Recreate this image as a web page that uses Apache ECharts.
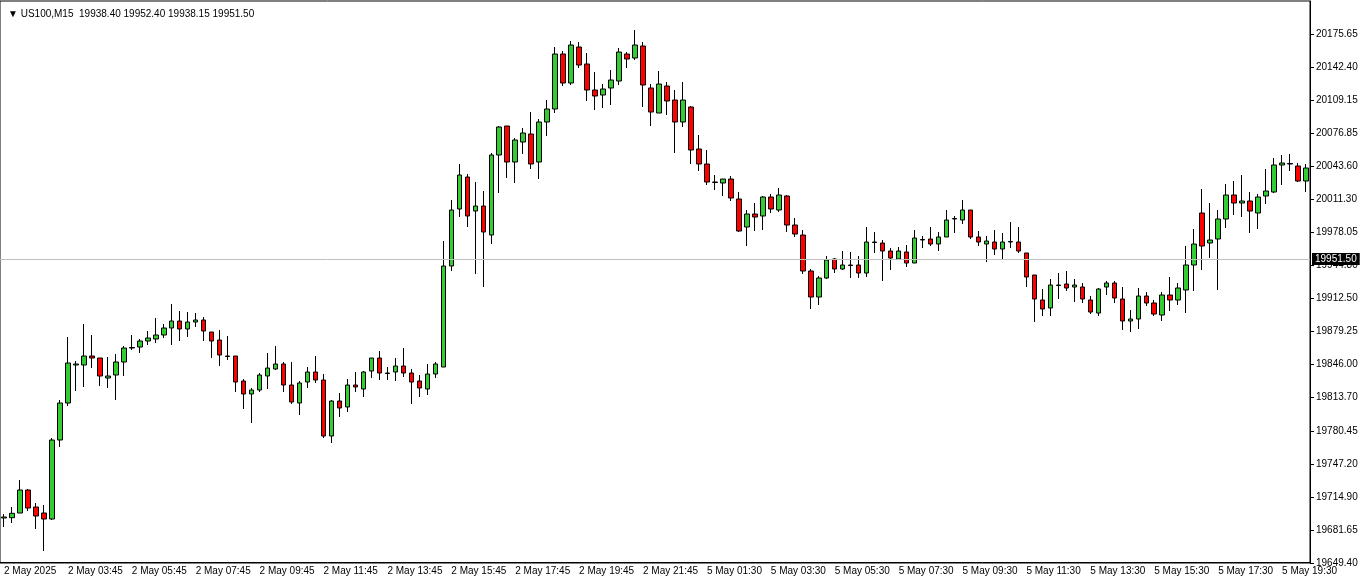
<!DOCTYPE html>
<html><head><meta charset="utf-8">
<script src="https://cdn.jsdelivr.net/npm/echarts@6/dist/echarts.min.js"></script>
<style>html,body{margin:0;padding:0;background:#fff}#c{width:1362px;height:585px}</style>
</head><body><div id="c"></div>
<script>
// [open, close, low, high]
const opens=[19692.5,19692.8,19697.5,19720.5,19703.5,19697.5,19691.5,19770.5,19807.5,19845.5,19845.5,19854.5,19852.5,19832.5,19835.5,19848.5,19862.5,19863.5,19869.5,19871.5,19875.5,19882.5,19889.5,19881.5,19888.5,19890.5,19878.5,19870.5,19854.5,19854.5,19829.5,19816.5,19820.5,19834.5,19841.5,19846.5,19825.5,19807.5,19828.5,19838.5,19830.5,19774.5,19809.5,19803.5,19825.5,19821.5,19839.5,19852.5,19837.5,19838.5,19844.5,19837.5,19829.5,19821.5,19836.5,19843.5,19944.5,20001.5,20033.5,19999.5,20004.5,19975.5,20055.5,20084.5,20048.5,20068.5,20076.5,20048.5,20088.5,20101.5,20156.5,20127.5,20163.5,20146.5,20120.5,20115.5,20122.5,20129.5,20156.5,20152.5,20164.5,20122.5,20097.5,20124.5,20110.5,20088.5,20103.5,20061.5,20046.5,20028.5,20027.5,20031.5,20011.5,19983.5,19996.5,19994.5,20013.5,20000.5,20014.5,19985.5,19975.5,19939.5,19913.5,19932.5,19951.5,19941.5,19945.5,19945.5,19937.5,19968.5,19967.5,19959.5,19951.5,19958.5,19947.5,19970.5,19971.5,19966.5,19973.5,19991.5,19990.5,20000.5,19973.5,19966.5,19968.5,19961.5,19968.5,19968.5,19957.5,19935.5,19910.5,19902.5,19925.5,19926.5,19923.5,19923.5,19910.5,19897.5,19923.5,19927.5,19911.5,19889.5,19891.5,19914.5,19907.5,19895.5,19915.5,19910.5,19920.5,19945.5,19997.5,19967.5,19971.5,19991.5,20015.5,20007.5,20009.5,19997.5,20014.5,20018.5,20045.5,20046.5,20044.5,20029.5];
const closes=[19693.5,19697.2,19720.5,19702.5,19694.5,19691.5,19770.5,19807.5,19847.5,19846.5,19854.5,19852.5,19834.5,19834.5,19848.5,19862.5,19863,19869.5,19872.5,19875.5,19882.5,19889.5,19881.5,19888.5,19890.5,19879.5,19869.5,19855.5,19854,19828.5,19816.5,19820.5,19835.5,19842.5,19846.5,19825.5,19808.5,19827.5,19838.5,19830.5,19774.5,19809.5,19802.5,19825.5,19823.5,19838.5,19852.5,19837.5,19837,19844.5,19837.5,19828.5,19822.5,19836.5,19846.5,19944.5,20000.5,20035.5,19994.5,20004.5,19978.5,20055.5,20083.5,20048.5,20070.5,20077.5,20046.5,20088.5,20101.5,20156.5,20127.5,20165.5,20145.5,20120.5,20114.5,20121.5,20130.5,20158.5,20151.5,20165.5,20125.5,20098.5,20126.5,20109.5,20088.5,20110.5,20060.5,20046.5,20028.5,20028,20031.5,20012.5,19979.5,19996.5,19993.5,20013.5,20001.5,20015.5,19985.5,19976.5,19939.5,19913.5,19932.5,19950.5,19941.5,19945.5,19945,19937.5,19968.5,19968,19959.5,19952.5,19959.5,19947.5,19972.5,19971,19966.5,19973.5,19990.5,19992,20000.5,19973.5,19968.5,19969.5,19961.5,19968.5,19969,19959.5,19933.5,19911.5,19901.5,19925.5,19925,19922.5,19925.5,19911.5,19898.5,19921.5,19927.5,19912.5,19889.5,19891.5,19914.5,19907.5,19896.5,19915.5,19910.5,19922.5,19945.5,19966.5,19964.5,19970.5,19991.5,20015.5,20007.5,20009.5,19999.5,20013.5,20019.5,20045.5,20047.5,20047,20029.5,20042.5];
const lows=[19683.5,19687.5,19697.5,19699.5,19681.5,19659.5,19690.5,19763.5,19804.5,19819.5,19823.5,19842.5,19824.5,19822.5,19810.5,19834.5,19860.5,19857.5,19865.5,19867.5,19872.5,19865.5,19869.5,19873.5,19883.5,19869.5,19852.5,19844.5,19850.5,19818.5,19801.5,19787.5,19818.5,19821.5,19840.5,19818.5,19806.5,19795.5,19822.5,19827.5,19772.5,19767.5,19793.5,19798.5,19818.5,19813.5,19832.5,19830.5,19830.5,19829.5,19833.5,19806.5,19813.5,19815.5,19832.5,19843.5,19939.5,19993.5,19983.5,19936.5,19923.5,19966.5,20017.5,20032.5,20027.5,20056.5,20041.5,20031.5,20074.5,20097.5,20124.5,20125.5,20142.5,20109.5,20100.5,20102.5,20105.5,20125.5,20142.5,20150.5,20103.5,20084.5,20097.5,20095.5,20057.5,20083.5,20046.5,20039.5,20025.5,20020.5,20014.5,20009.5,19978.5,19964.5,19979.5,19980.5,19997.5,19998.5,19978.5,19973.5,19936.5,19901.5,19905.5,19931.5,19937.5,19940.5,19932.5,19932.5,19933.5,19957.5,19929.5,19940.5,19951.5,19943.5,19947.5,19962.5,19964.5,19959.5,19973.5,19977.5,19986.5,19971.5,19964.5,19948.5,19955.5,19950.5,19962.5,19957.5,19923.5,19888.5,19894.5,19894.5,19911.5,19919.5,19908.5,19907.5,19896.5,19894.5,19915.5,19907.5,19880.5,19878.5,19881.5,19904.5,19894.5,19889.5,19899.5,19905.5,19897.5,19919.5,19940.5,19952.5,19920.5,19982.5,19995.5,19993.5,19977.5,19981.5,20006.5,20017.5,20025.5,20039.5,20028.5,20018.5];
const highs=[19696.5,19703.5,19730.5,19721.5,19707.5,19705.5,19772.5,19810.5,19873.5,19849.5,19886.5,19875.5,19852.5,19853.5,19856.5,19864.5,19875.5,19871.5,19879.5,19892.5,19886.5,19906.5,19899.5,19898.5,19897.5,19893.5,19878.5,19880.5,19874.5,19854.5,19831.5,19822.5,19837.5,19857.5,19864.5,19848.5,19848.5,19829.5,19843.5,19854.5,19836.5,19810.5,19817.5,19831.5,19838.5,19839.5,19852.5,19859.5,19843.5,19852.5,19862.5,19841.5,19835.5,19846.5,19848.5,19969.5,20010.5,20046.5,20036.5,20028.5,20019.5,20057.5,20084.5,20084.5,20072.5,20082.5,20098.5,20091.5,20110.5,20163.5,20159.5,20169.5,20168.5,20157.5,20138.5,20126.5,20140.5,20162.5,20158.5,20180.5,20168.5,20126.5,20139.5,20128.5,20120.5,20128.5,20104.5,20075.5,20060.5,20035.5,20031.5,20034.5,20018.5,20000.5,20007.5,20014.5,20016.5,20022.5,20015.5,19992.5,19980.5,19941.5,19934.5,19954.5,19952.5,19959.5,19958.5,19954.5,19983.5,19978.5,19970.5,19962.5,19963.5,19965.5,19980.5,19974.5,19983.5,19978.5,20000.5,19994.5,20010.5,20000.5,19979.5,19974.5,19980.5,19977.5,19988.5,19983.5,19957.5,19935.5,19921.5,19931.5,19937.5,19939.5,19931.5,19927.5,19914.5,19922.5,19929.5,19929.5,19923.5,19900.5,19922.5,19918.5,19910.5,19918.5,19933.5,19927.5,19964.5,19981.5,20021.5,20007.5,20000.5,20026.5,20029.5,20035.5,20018.5,20016.5,20041.5,20052.5,20055.5,20056.5,20047.5,20046.5];
const timeLabels=['2 May 2025','2 May 03:45','2 May 05:45','2 May 07:45','2 May 09:45','2 May 11:45','2 May 13:45','2 May 15:45','2 May 17:45','2 May 19:45','2 May 21:45','5 May 01:30','5 May 03:30','5 May 05:30','5 May 07:30','5 May 09:30','5 May 11:30','5 May 13:30','5 May 15:30','5 May 17:30','5 May 19:30'];
const priceLabels=['19649.40','19681.65','19714.90','19747.20','19780.45','19813.70','19846.00','19879.25','19912.50','19944.80','19978.05','20011.30','20043.60','20076.85','20109.15','20142.40','20175.65'];
const currentPrice=19951.5;

const cats=opens.map((_,i)=>String(i));
const ohlc=opens.map((o,i)=>[o,closes[i],lows[i],highs[i]]);
const F='Liberation Sans';
const chart=echarts.init(document.getElementById('c'));
chart.setOption({
  animation:false,
  backgroundColor:'#fff',
  title:{text:'\u25BC US100,M15  19938.40 19952.40 19938.15 19951.50',left:3,top:4,textStyle:{fontFamily:F,fontSize:10,fontWeight:'normal',color:'#000'}},
  grid:{left:0,right:52,top:1,bottom:22,show:true,borderColor:'#000',borderWidth:1},
  xAxis:{type:'category',data:cats,boundaryGap:true,
    axisLine:{lineStyle:{color:'#000'}},
    axisTick:{interval:(i)=>i%8===0,length:4,lineStyle:{color:'#000'}},
    axisLabel:{interval:(i)=>i%8===0,formatter:(v,i)=>timeLabels[Math.round(i/8)]||'',align:'left',fontFamily:F,fontSize:10,color:'#000',margin:3},
    splitLine:{show:false}},
  yAxis:[
    {type:'value',min:-0.03,max:16.97,interval:1,position:'right',
     axisLine:{show:true,lineStyle:{color:'#000'}},
     axisTick:{show:true,length:4,inside:false,lineStyle:{color:'#000'}},
     axisLabel:{show:true,showMinLabel:true,showMaxLabel:false,hideOverlap:false,fontFamily:F,fontSize:10,color:'#000',margin:6,
       formatter:function(v){const k=Math.round(Number(v));return priceLabels[k]||'';}},
     splitLine:{show:false}},
    {type:'value',min:19647.5,max:20209.5,position:'right',axisLabel:{show:false},axisTick:{show:false},axisLine:{show:false},splitLine:{show:false}}
  ],
  series:[{type:'candlestick',data:ohlc,yAxisIndex:1,barWidth:5,
    itemStyle:{color:'#33cc33',color0:'#ff0000',borderColor:'#000',borderColor0:'#000',borderWidth:1},
    markLine:{silent:true,symbol:'none',data:[{yAxis:currentPrice}],
      lineStyle:{color:'#c0c0c0',type:'solid',width:1},
      label:{position:'end',formatter:'19951.50',backgroundColor:'#000',color:'#fff',fontFamily:F,fontSize:10,padding:[1,3],distance:2}}
  }]
});
</script></body></html>
